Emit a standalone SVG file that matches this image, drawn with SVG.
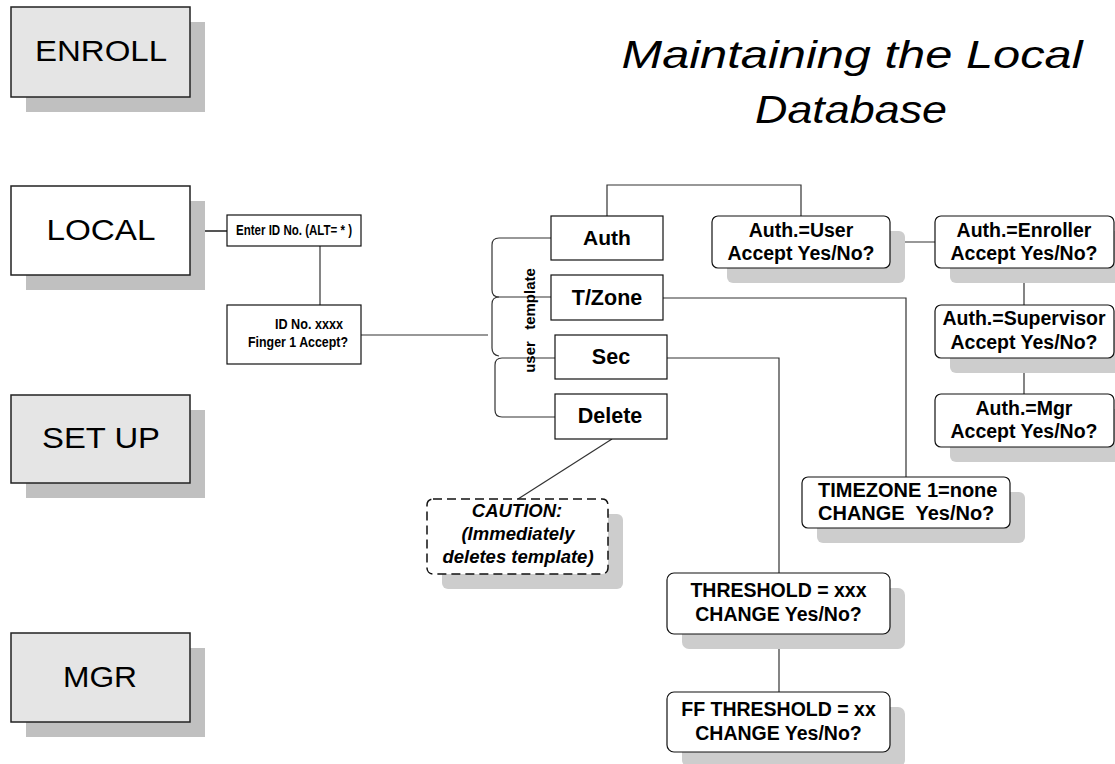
<svg xmlns="http://www.w3.org/2000/svg" width="1115" height="764" viewBox="0 0 1115 764">
<style>
.main{fill:#e5e5e5;stroke:#222;stroke-width:1.5}
.mainw{fill:#fff;stroke:#222;stroke-width:1.5}
.sh{fill:#c0c0c0}
.sh2{fill:#cdcdcd}
.box{fill:#fff;stroke:#111;stroke-width:1.2}
.rbox{fill:#fff;stroke:#111;stroke-width:1.2}
.big{font-family:"Liberation Sans",Arial,sans-serif;font-size:29px;fill:#000;text-anchor:middle}
.lbl{font-family:"Liberation Sans",Arial,sans-serif;font-weight:bold;fill:#000;text-anchor:middle}
.conn{fill:none;stroke:#333;stroke-width:1.2}
</style>
<rect width="1115" height="764" fill="#fff"/>

<g id="title">
<text x="852" y="68" font-family="Liberation Sans,Arial,sans-serif" font-style="italic" font-size="39" text-anchor="middle" textLength="461" lengthAdjust="spacingAndGlyphs">Maintaining the Local</text>
<text x="851" y="123" font-family="Liberation Sans,Arial,sans-serif" font-style="italic" font-size="39" text-anchor="middle" textLength="192" lengthAdjust="spacingAndGlyphs">Database</text>
</g>

<g id="connectors">
<line class="conn" x1="190" y1="231" x2="227" y2="231" style="stroke:#555;stroke-width:2"/>
<line class="conn" x1="320" y1="246" x2="320" y2="305"/>
<line class="conn" x1="361" y1="335" x2="488" y2="335"/>
<path class="conn" d="M551,238 H499 Q492,238 492,245 V290 Q492,297 499,297 H551"/>
<path class="conn" d="M499,297 Q492,297 492,304 V348 Q492,355 499,356"/>
<path class="conn" d="M555,358 H502 Q495,358 495,365 V410 Q495,417 502,417 H555"/>
<polyline class="conn" points="607,216 607,185 801,185 801,216"/>
<line class="conn" x1="890" y1="242" x2="935" y2="242"/>
<line class="conn" x1="1024" y1="268" x2="1024" y2="305"/>
<line class="conn" x1="1024" y1="358" x2="1024" y2="394"/>
<polyline class="conn" points="663,298 906,298 906,477"/>
<polyline class="conn" points="667,358 779,358 779,573"/>
<line class="conn" x1="779" y1="634" x2="779" y2="692"/>
<line class="conn" x1="612" y1="439" x2="518" y2="499"/>
</g>

<g id="enroll">
<rect class="sh" x="26" y="22" width="179" height="90"/>
<rect class="main" x="11" y="7" width="179" height="90"/>
<text class="big" x="101" y="61" textLength="132" lengthAdjust="spacingAndGlyphs">ENROLL</text>
</g>
<g id="local">
<rect class="sh" x="26" y="201" width="179" height="89"/>
<rect class="mainw" x="11" y="186" width="179" height="89"/>
<text class="big" x="101" y="240" textLength="109" lengthAdjust="spacingAndGlyphs">LOCAL</text>
</g>
<g id="setup">
<rect class="sh" x="26" y="410" width="179" height="88"/>
<rect class="main" x="11" y="395" width="179" height="88"/>
<text class="big" x="101" y="448" textLength="118" lengthAdjust="spacingAndGlyphs">SET UP</text>
</g>
<g id="mgr">
<rect class="sh" x="26" y="648" width="179" height="89"/>
<rect class="main" x="11" y="633" width="179" height="89"/>
<text class="big" x="100" y="687" textLength="74" lengthAdjust="spacingAndGlyphs">MGR</text>
</g>

<g id="enter-id">
<rect class="box" x="227" y="215" width="134" height="31"/>
<text class="lbl" x="294" y="235" font-size="15" textLength="116" lengthAdjust="spacingAndGlyphs">Enter ID No. (ALT= * )</text>
</g>
<g id="id-no">
<rect class="box" x="227" y="305" width="134" height="59"/>
<text class="lbl" x="309" y="329" font-size="14" textLength="68" lengthAdjust="spacingAndGlyphs">ID No. xxxx</text>
<text class="lbl" x="298" y="347" font-size="14" textLength="100" lengthAdjust="spacingAndGlyphs">Finger 1 Accept?</text>
</g>

<g id="auth">
<rect class="box" x="551" y="216" width="112" height="44"/>
<text class="lbl" x="607" y="245" font-size="21">Auth</text>
</g>
<g id="tzone">
<rect class="box" x="551" y="275" width="112" height="45"/>
<text class="lbl" x="607" y="305" font-size="21.5">T/Zone</text>
</g>
<g id="sec">
<rect class="box" x="555" y="335" width="112" height="44"/>
<text class="lbl" x="611" y="364" font-size="21.5">Sec</text>
</g>
<g id="delete">
<rect class="box" x="555" y="394" width="112" height="45"/>
<text class="lbl" x="610" y="423" font-size="21.5">Delete</text>
</g>
<g id="user-template">
<text class="lbl" font-size="15" transform="translate(535,299) rotate(-90)">template</text>
<text class="lbl" font-size="15" transform="translate(535,357) rotate(-90)">user</text>
</g>

<g id="auth-user">
<rect class="sh2" x="727" y="231" width="178" height="52" rx="6"/>
<rect class="rbox" x="712" y="216" width="178" height="52" rx="6"/>
<text class="lbl" x="801" y="237" font-size="19.5">Auth.=User</text>
<text class="lbl" x="801" y="260" font-size="19.5">Accept Yes/No?</text>
</g>
<g id="auth-enroller">
<rect class="sh2" x="950" y="231" width="179" height="52" rx="6"/>
<rect class="rbox" x="935" y="216" width="179" height="52" rx="6"/>
<text class="lbl" x="1024" y="237" font-size="19.5">Auth.=Enroller</text>
<text class="lbl" x="1024" y="260" font-size="19.5">Accept Yes/No?</text>
</g>
<g id="auth-supervisor">
<rect class="sh2" x="950" y="320" width="179" height="53" rx="6"/>
<rect class="rbox" x="935" y="305" width="179" height="53" rx="6"/>
<text class="lbl" x="1024" y="325" font-size="19.5">Auth.=Supervisor</text>
<text class="lbl" x="1024" y="349" font-size="19.5">Accept Yes/No?</text>
</g>
<g id="auth-mgr">
<rect class="sh2" x="950" y="409" width="179" height="53" rx="6"/>
<rect class="rbox" x="935" y="394" width="179" height="53" rx="6"/>
<text class="lbl" x="1024" y="415" font-size="19.5">Auth.=Mgr</text>
<text class="lbl" x="1024" y="438" font-size="19.5">Accept Yes/No?</text>
</g>

<g id="timezone">
<rect class="sh2" x="817" y="492" width="208" height="51" rx="6"/>
<rect class="rbox" x="802" y="477" width="208" height="51" rx="6"/>
<text class="lbl" x="818" y="497" font-size="20" style="text-anchor:start" xml:space="preserve">TIMEZONE 1=none</text>
<text class="lbl" x="818" y="520" font-size="20" style="text-anchor:start" xml:space="preserve">CHANGE  Yes/No?</text>
</g>

<g id="threshold">
<rect class="sh2" x="682" y="588" width="223" height="61" rx="7"/>
<rect class="rbox" x="667" y="573" width="223" height="61" rx="7"/>
<text class="lbl" x="778.5" y="597" font-size="19.5">THRESHOLD = xxx</text>
<text class="lbl" x="778.5" y="621" font-size="19.5">CHANGE Yes/No?</text>
</g>
<g id="ff-threshold">
<rect class="sh2" x="682" y="707" width="223" height="60" rx="7"/>
<rect class="rbox" x="667" y="692" width="223" height="60" rx="7"/>
<text class="lbl" x="778.5" y="716" font-size="19.5">FF THRESHOLD = xx</text>
<text class="lbl" x="778.5" y="740" font-size="19.5">CHANGE Yes/No?</text>
</g>

<g id="caution">
<rect class="sh2" x="442" y="514" width="181" height="75" rx="6"/>
<rect x="427" y="499" width="181" height="75" rx="6" fill="#fff" stroke="#111" stroke-width="1.5" stroke-dasharray="9,5"/>
<g font-family="Liberation Sans,Arial,sans-serif" font-weight="bold" font-style="italic" font-size="18.5" text-anchor="middle">
<text x="517" y="517">CAUTION:</text>
<text x="518" y="540">(Immediately</text>
<text x="518" y="563">deletes template)</text>
</g>
</g>
</svg>
